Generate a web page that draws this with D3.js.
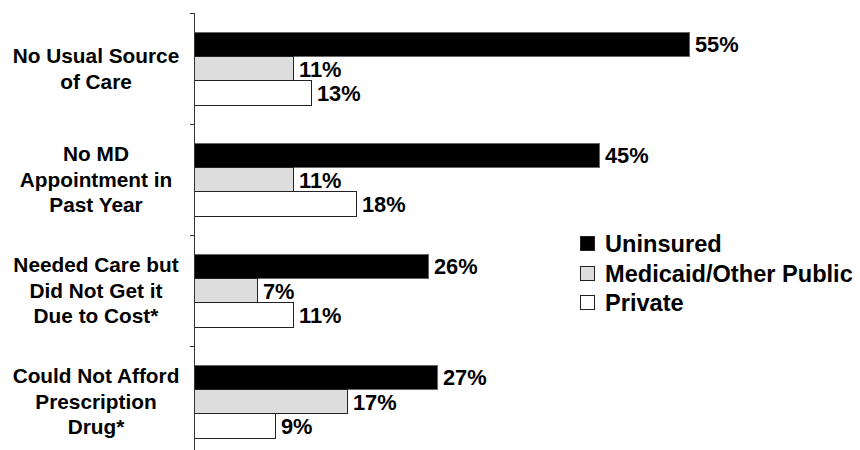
<!DOCTYPE html>
<html>
<head>
<meta charset="utf-8">
<script src="https://cdn.jsdelivr.net/npm/d3@7"></script>
<style>
  html, body { margin: 0; padding: 0; background: #fff; }
  svg { display: block; }
  text { font-family: "Liberation Sans", Arial, Helvetica, sans-serif; font-weight: bold; fill: #000; }
</style>
</head>
<body>
<svg id="chart" width="860" height="450"></svg>
<script>
const categories = [
  ["No Usual Source", "of Care"],
  ["No MD", "Appointment in", "Past Year"],
  ["Needed Care but", "Did Not Get it", "Due to Cost*"],
  ["Could Not Afford", "Prescription", "Drug*"]
];
const categoryKeys = ["usual", "md", "needed", "rx"];
const seriesNames = ["Uninsured", "Medicaid/Other Public", "Private"];
const uninsured = [55, 45, 26, 27];
const medicaid = [11, 11, 7, 17];
const privateIns = [13, 18, 11, 9];
const seriesValues = [uninsured, medicaid, privateIns];
const seriesColors = ["#000000", "#dddddd", "#ffffff"];

const svg = d3.select("#chart");

const axisX = 194;
const y = d3.scaleBand().domain(categoryKeys).range([13, 457]).padding(0);
const ySeries = d3.scaleBand().domain(seriesNames).range([19, 92]).padding(0);
const x = d3.scaleLinear().domain([0, 70]).range([axisX, axisX + 630]);

// bars
categoryKeys.forEach((key, ci) => {
  const g = svg.append("g").attr("transform", `translate(0,${y(key)})`);
  seriesNames.forEach((s, si) => {
    const v = seriesValues[si][ci];
    g.append("rect")
      .attr("x", x(0))
      .attr("y", ySeries(s))
      .attr("width", x(v) - x(0))
      .attr("height", ySeries.bandwidth())
      .attr("fill", seriesColors[si])
      .attr("stroke", si === 0 ? "#666" : "#222")
      .attr("stroke-width", 1)
      .attr("shape-rendering", "crispEdges");
    g.append("text")
      .attr("x", x(v) + 6)
      .attr("y", ySeries(s) + ySeries.bandwidth() / 2 + 8)
      .attr("font-size", 21.8)
      .text(v + "%");
  });
});

// axis
const ax = svg.append("g").attr("transform", `translate(${axisX},0)`);
const boundaries = categoryKeys.map(k => y(k)).concat([y.range()[1]]);
ax.selectAll("line.b").data(boundaries).enter().append("line")
  .attr("class", "b")
  .attr("x1", -4).attr("x2", 0)
  .attr("y1", d => Math.round(d) + 0.5).attr("y2", d => Math.round(d) + 0.5)
  .attr("stroke", "#333");
ax.append("line")
  .attr("x1", 0.5).attr("x2", 0.5)
  .attr("y1", 13).attr("y2", 450)
  .attr("stroke", "#333");

// category labels
const lh = 25.5;
categoryKeys.forEach((key, ci) => {
  const lines = categories[ci];
  const cy = y(key) + y.bandwidth() / 2;
  const t = svg.append("text")
    .attr("text-anchor", "middle")
    .attr("font-size", 20.8);
  lines.forEach((ln, li) => {
    t.append("tspan")
      .attr("x", 96)
      .attr("y", cy + (li - (lines.length - 1) / 2) * lh + 7.4)
      .text(ln);
  });
});

// legend
const legendY = [244, 274, 303];
const lg = svg.append("g");
seriesNames.forEach((s, si) => {
  lg.append("rect")
    .attr("x", 580.5).attr("y", legendY[si] - 7.5)
    .attr("width", 14).attr("height", 14)
    .attr("fill", seriesColors[si])
    .attr("stroke", "#222")
    .attr("shape-rendering", "crispEdges");
  lg.append("text")
    .attr("x", 605)
    .attr("y", legendY[si] + 8)
    .attr("font-size", 23.6)
    .text(s);
});
</script>
</body>
</html>
